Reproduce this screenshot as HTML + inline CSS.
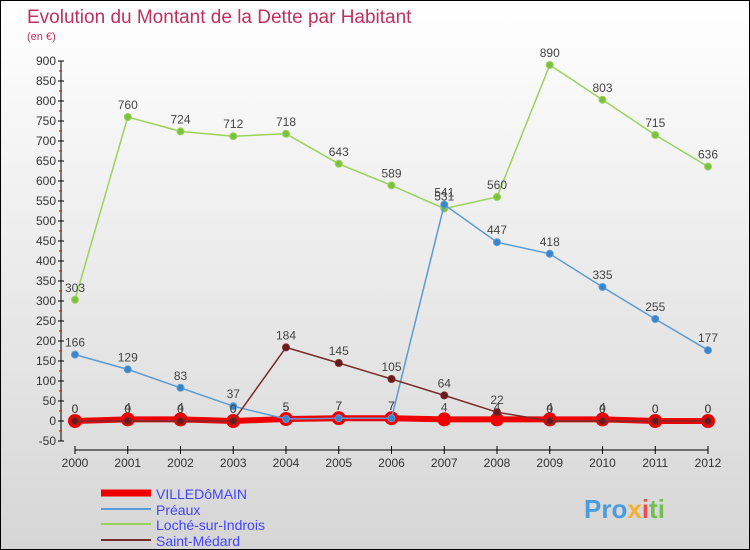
<!DOCTYPE html>
<html><head><meta charset="utf-8"><style>
body{margin:0}
#c{width:750px;height:550px;position:relative;overflow:hidden;box-sizing:border-box;border:1px solid #000;background:linear-gradient(#fff,#d6d6d6);font-family:"Liberation Sans",sans-serif}
</style></head><body>
<div id="c">
<svg id="s" width="750" height="550" style="position:absolute;left:0;top:0">
<text x="26" y="22" font-size="19" fill="#c0305a">Evolution du Montant de la Dette par Habitant</text>
<text x="26" y="39" font-size="11" fill="#c0305a">(en €)</text>
<g id="ax"></g><g id="ser"></g>
<g>
<line x1="100" y1="492" x2="150" y2="492" stroke="#e00" stroke-width="7"/>
<text x="155" y="498" font-size="14" fill="#44f">VILLEDôMAIN</text>
<line x1="100" y1="508" x2="150" y2="508" stroke="#5b9bd5" stroke-width="2"/>
<text x="155" y="514" font-size="14" fill="#44f">Préaux</text>
<line x1="100" y1="523" x2="150" y2="523" stroke="#9ad35a" stroke-width="2"/>
<text x="155" y="529" font-size="14" fill="#44f">Loché-sur-Indrois</text>
<line x1="100" y1="539" x2="150" y2="539" stroke="#7a2a2a" stroke-width="2"/>
<text x="155" y="545" font-size="14" fill="#44f">Saint-Médard</text>
</g>
<text x="583" y="517" font-size="26" font-weight="bold" fill="#4a9be0">Pro<tspan fill="#f5b030">x</tspan><tspan fill="#e85050">i</tspan><tspan fill="#70c050">ti</tspan></text>
</svg>
</div>
<script>
const years=[2000,2001,2002,2003,2004,2005,2006,2007,2008,2009,2010,2011,2012];
const yTicks=[-50,0,50,100,150,200,250,300,350,400,450,500,550,600,650,700,750,800,850,900];
const villedomain=[0,4,4,0,5,7,7,4,4,4,4,0,0];
const preaux=[166,129,83,37,5,7,7,541,447,418,335,255,177];
const loche=[303,760,724,712,718,643,589,531,560,890,803,715,636];
const saintMedard=[0,0,0,0,184,145,105,64,22,0,0,0,0];
const NS="http://www.w3.org/2000/svg";
const X=i=>74+i*(707-74)/(years.length-1);
const Y=v=>420-v*0.4;
function mk(t,a,p){const e=document.createElementNS(NS,t);for(const k in a)e.setAttribute(k,a[k]);p.appendChild(e);return e;}
const ax=document.getElementById('ax');
const yl=mk('line',{x1:60,y1:Y(900),x2:60,y2:Y(-50),stroke:'#000'},ax);


yTicks.forEach(v=>{
 const t=mk('line',{x1:57,y1:Y(v),x2:63,y2:Y(v),stroke:'#000'},ax);
 
 
 if(v<900){
 const m=mk('line',{x1:58,y1:Y(v+25),x2:61,y2:Y(v+25),stroke:'#e00'},ax);
 
 
 }
 const l=mk('text',{x:55,y:Y(v)+4,'font-size':12,'text-anchor':'end',fill:'#333'},ax);l.textContent=v;
 
 
});
const xl=mk('line',{x1:74,y1:449,x2:707,y2:449,stroke:'#000'},ax);


years.forEach((y,i)=>{
 const t=mk('line',{x1:X(i),y1:445,x2:X(i),y2:453,stroke:'#000'},ax);
 
 
 const l=mk('text',{x:X(i),y:466,'font-size':12,'text-anchor':'middle',fill:'#333'},ax);l.textContent=y;
 
 
});
const ser=document.getElementById('ser');
function series(d,name,col,w,r,dot){
 const g=mk('g',{},ser);
 
 
 const p=mk('polyline',{points:d.map((v,i)=>X(i)+','+Y(v)).join(' '),fill:'none',stroke:col,'stroke-width':w},g);
 
 
 d.forEach((v,i)=>{
  const c=mk('circle',{cx:X(i),cy:Y(v),r:r,fill:dot,stroke:col,'stroke-width':1},g);
  
  
  const t=mk('text',{x:X(i),y:Y(v)-8,'font-size':12,'text-anchor':'middle',fill:'#444'},g);t.textContent=v;
  
  
 });
}
series(villedomain,'villedomain','#e00',6,6.5,'#e00');
series(loche,'loche','#9ad35a',1.5,3.5,'#7cc040');
series(preaux,'preaux','#5b9bd5',1.5,3.5,'#3a85c8');
series(saintMedard,'saint-medard','#7a2a2a',1.5,3.5,'#6a1a1a');
</script>
</body></html>
